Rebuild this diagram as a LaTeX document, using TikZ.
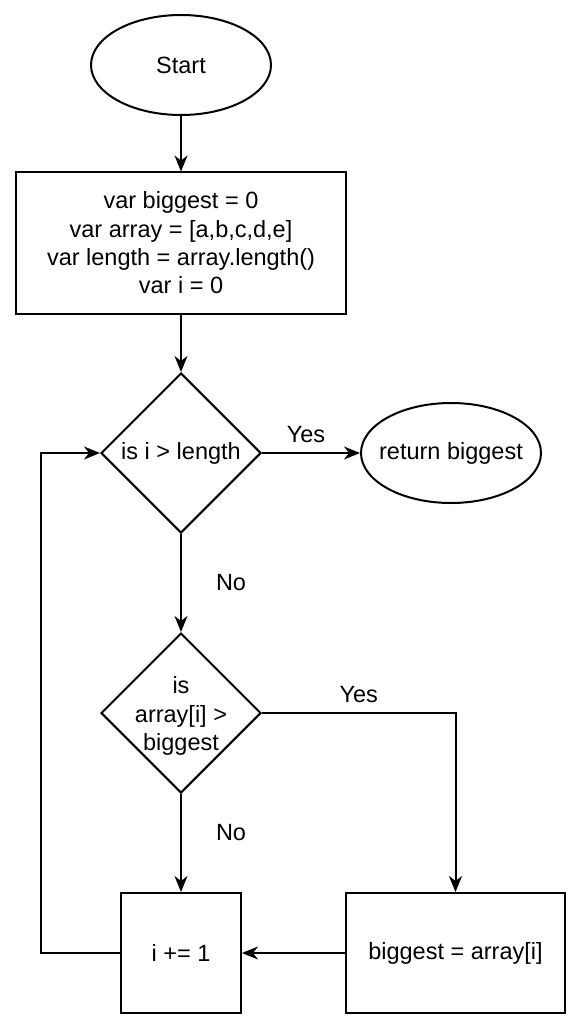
\documentclass[tikz,border=0pt]{standalone}
\usepackage{fontspec}
\setmainfont{Liberation Sans}
\usetikzlibrary{shapes.geometric,arrows.meta}
\tikzset{
  base/.style={draw=black, line width=2pt, inner sep=0pt, font=\fontsize{23.5}{28.3}\selectfont, align=center},
  term/.style={base, ellipse, minimum width=180pt, minimum height=100pt},
  proc/.style={base, rectangle},
  decision/.style={base, diamond, minimum width=160pt, minimum height=160pt},
  lbl/.style={font=\fontsize{23.5}{28.3}\selectfont, inner sep=3pt, align=center},
  conn/.style={line width=2pt, -{Stealth[length=16pt,width=13pt,inset=5pt]}},
  plain/.style={line width=2pt}
}
\begin{document}
\begin{tikzpicture}[x=1pt,y=-1pt]
\useasboundingbox (0,0) rectangle (572,1024);
\node[term] (start) at (181,65) {Start};
\node[proc, minimum width=330pt, minimum height=141pt] (init) at (181,243)
  {var biggest = 0\\var array = [a,b,c,d,e]\\var length = array.length()\\var i = 0};
\node[decision] (d1) at (181,453) {};
\node[lbl] (d1t) at (d1.center) {is i > length};
\node[term] (ret) at (451,453) {};
\node[lbl] (rett) at (ret.center) {return biggest};
\node[decision] (d2) at (181,713) {};
\node[lbl] (d2t) at ([yshift=-3pt]d2.center) {is\\array[i] >\\biggest};
\node[proc, minimum width=120pt, minimum height=120pt] (inc) at (181,953) {i += 1};
\node[proc, minimum width=219pt, minimum height=120pt] (bz) at (455.5,953) {biggest = array[i]};
\coordinate (yescorner) at (455.5,713);
\coordinate (loopb) at (41,953);
\coordinate (loopt) at (41,453);

\draw[conn] (start.south) -- (init.north);
\draw[conn] (init.south) -- (d1.north);
\draw[conn] (d1.east) -- node[lbl, midway, above, xshift=-5pt, yshift=6pt] {Yes} (ret.west);
\draw[conn] (d1.south) -- node[lbl, midway, right, xshift=31pt] {No} (d2.north);
\draw[conn] (d2.east) -- node[lbl, midway, above, yshift=6pt] {Yes} (yescorner) -- (bz.north);
\draw[conn] (d2.south) -- node[lbl, midway, right, xshift=31pt, yshift=10pt] {No} (inc.north);
\draw[conn] (bz.west) -- (inc.east);
\draw[conn] (inc.west) -- (loopb) -- (loopt) -- (d1.west);
\end{tikzpicture}
\end{document}
